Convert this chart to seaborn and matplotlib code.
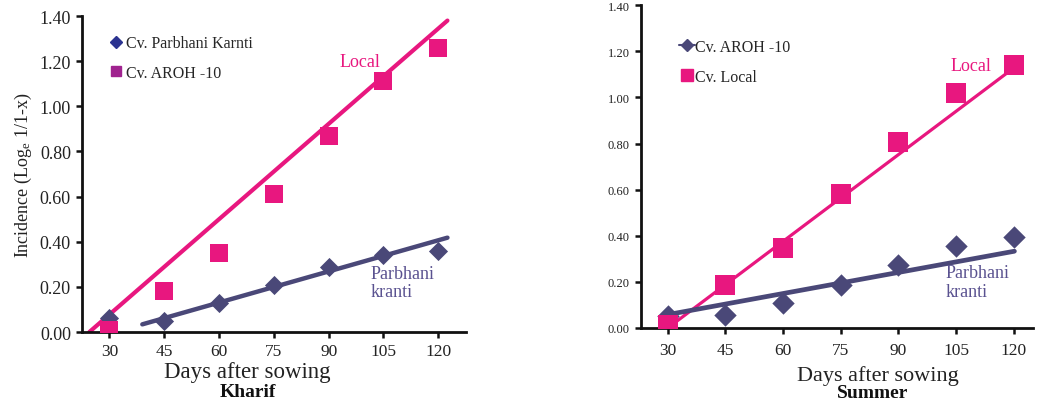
import numpy as np
import pandas as pd
import matplotlib
matplotlib.use("Agg")
import matplotlib.pyplot as plt
from matplotlib.lines import Line2D
import seaborn as sns

sns.set_theme(style="white")
plt.rcParams['font.family'] = ['Liberation Serif', 'DejaVu Serif']
plt.rcParams['mathtext.fontset'] = 'custom'
plt.rcParams['mathtext.rm'] = 'Liberation Serif'
plt.rcParams['mathtext.it'] = 'Liberation Serif'

# Data
days = [30, 45, 60, 75, 90, 105, 120]
kharif_parbhani = [0.06, 0.05, 0.13, 0.21, 0.29, 0.34, 0.36]
kharif_local = [0.01, 0.18, 0.35, 0.61, 0.87, 1.11, 1.26]
summer_aroh = [0.05, 0.055, 0.11, 0.185, 0.275, 0.355, 0.395]
summer_local = [0.015, 0.185, 0.345, 0.58, 0.805, 1.02, 1.14]

# trend lines as drawn (start / end)
kharif_local_trend_x = [24.5, 122.5]
kharif_local_trend_y = [0.0, 1.38]
kharif_parb_trend_x = [39.0, 122.5]
kharif_parb_trend_y = [0.034, 0.418]
summer_local_trend_x = [30.0, 120.2]
summer_local_trend_y = [0.0, 1.13]
summer_parb_trend_x = [29.0, 120.2]
summer_parb_trend_y = [0.055, 0.333]

yticks = [0.0, 0.2, 0.4, 0.6, 0.8, 1.0, 1.2, 1.4]

MAGENTA = '#E8177F'
SLATE = '#4A4878'
TXT_SLATE = '#5A5290'

fig = plt.figure(figsize=(10.37, 4.02), dpi=100)
ax1 = fig.add_axes([0.0791, 0.1716, 0.370, 0.786])
ax2 = fig.add_axes([0.618, 0.1816, 0.378, 0.803])


def draw_panel(ax, parb, local, parb_tx, parb_ty, loc_tx, loc_ty, lw_parb, lw_loc, sq, dm):
    df = pd.DataFrame({'days': days, 'parb': parb, 'local': local})
    sns.lineplot(x=loc_tx, y=loc_ty, ax=ax, color=MAGENTA, lw=lw_loc)
    sns.lineplot(x=parb_tx, y=parb_ty, ax=ax, color=SLATE, lw=lw_parb)
    sns.scatterplot(data=df, x='days', y='parb', ax=ax, marker='D', s=dm,
                    color=SLATE, edgecolor=SLATE, linewidth=0, zorder=4)
    sns.scatterplot(data=df, x='days', y='local', ax=ax, marker='s', s=sq,
                    color=MAGENTA, edgecolor=MAGENTA, linewidth=0, zorder=5)
    ax.set_ylim(0, 1.4)
    ax.set_yticks(yticks)
    ax.set_yticklabels([f'{v:.2f}' for v in yticks])
    ax.set_xticks(days)
    ax.set_xticklabels([str(d) for d in days])
    ax.set_xlabel('')
    ax.set_ylabel('')
    for s in ['top', 'right']:
        ax.spines[s].set_visible(False)
    for s in ['left', 'bottom']:
        ax.spines[s].set_color('#111111')
        ax.spines[s].set_linewidth(2.0)
    ax.tick_params(axis='both', direction='out', length=4, width=1.8, color='#111111',
                   left=True, bottom=True, pad=4)


draw_panel(ax1, kharif_parbhani, kharif_local, kharif_parb_trend_x, kharif_parb_trend_y,
           kharif_local_trend_x, kharif_local_trend_y, 3.2, 3.0, 150, 95)
ax1.set_xlim(22.5, 127.5)
ax1.tick_params(axis='y', labelsize=13, labelcolor='#222222')
ax1.tick_params(axis='x', labelsize=12.5, labelcolor='#222222')
ax1.set_ylabel('Incidence (Log$_{\\mathrm{e}}$ 1/1-x)', fontsize=13, color='#222222', labelpad=4)
ax1.text(98.5, 1.20, 'Local', color=MAGENTA, fontsize=13, ha='center', va='center')
ax1.text(101.5, 0.22, 'Parbhani\nkranti', color=TXT_SLATE, fontsize=13, ha='left', va='center',
         linespacing=1.1)
h1 = [Line2D([], [], marker='D', color='#2B3390', ls='none', markersize=6),
      Line2D([], [], marker='s', color='#A0238F', ls='none', markersize=7)]
ax1.legend(h1, ['Cv. Parbhani Karnti', 'Cv. AROH -10'], loc='upper left',
           bbox_to_anchor=(0.025, 0.985), frameon=False, fontsize=11.5,
           handletextpad=0.05, labelspacing=0.85, handlelength=1.2)

draw_panel(ax2, summer_aroh, summer_local, summer_parb_trend_x, summer_parb_trend_y,
           summer_local_trend_x, summer_local_trend_y, 3.4, 2.3, 190, 130)
ax2.set_xlim(23, 125)
ax2.tick_params(axis='y', labelsize=9, labelcolor='#222222')
ax2.tick_params(axis='x', labelsize=12.5, labelcolor='#222222', pad=6)
ax2.text(109, 1.14, 'Local', color=MAGENTA, fontsize=13, ha='center', va='center')
ax2.text(102.3, 0.20, 'Parbhani\nkranti', color=TXT_SLATE, fontsize=13, ha='left', va='center',
         linespacing=1.1)
h2 = [Line2D([], [], marker='D', color=SLATE, ls='-', lw=1.5, markersize=6),
      Line2D([], [], marker='s', color=MAGENTA, ls='none', markersize=8)]
ax2.legend(h2, ['Cv. AROH -10', 'Cv. Local'], loc='upper left',
           bbox_to_anchor=(0.06, 0.94), frameon=False, fontsize=11.5,
           handletextpad=0.0, labelspacing=0.85, handlelength=1.0)

fig.text(247 / 1037, 1 - 373 / 402, 'Days after sowing', ha='center', va='center',
         fontsize=16.5, color='#222222')
fig.text(248 / 1037, 1 - 393 / 402, 'Kharif', ha='center', va='center',
         fontsize=14, fontweight='bold', color='#111111')
fig.text(878 / 1037, 1 - 376 / 402, 'Days after sowing', ha='center', va='center',
         fontsize=16, color='#222222')
fig.text(873 / 1037, 1 - 394 / 402, 'Summer', ha='center', va='center',
         fontsize=14, fontweight='bold', color='#111111')

fig.savefig('out.png', dpi=100)
